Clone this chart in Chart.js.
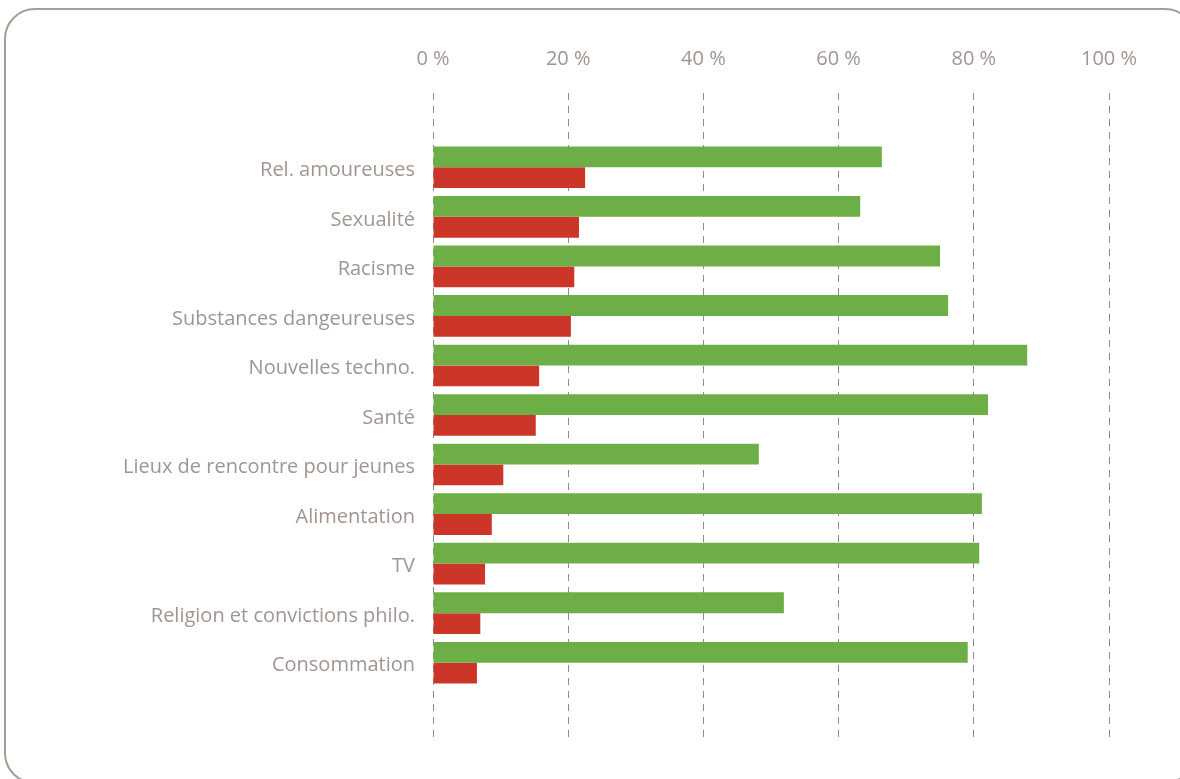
<!DOCTYPE html>
<html>
<head>
<meta charset="utf-8">
<script src="https://cdn.jsdelivr.net/npm/chart.js@4"></script>
<style>
  html, body { margin: 0; padding: 0; width: 1180px; height: 779px; overflow: hidden; background: #ffffff; }
  #frame {
    position: absolute; left: 4px; top: 8px; width: 1192px; height: 776px;
    border: 2px solid #a99d96; border-radius: 31px; box-sizing: border-box;
  }
  #wrap { position: absolute; left: 0; top: 0; width: 1180px; height: 779px; }
</style>
</head>
<body>
<div id="frame"></div>
<div id="wrap"><canvas id="chart" width="1180" height="779"></canvas></div>
<script>
// Thèmes abordés (en %)
const categories = [
  'Rel. amoureuses',
  'Sexualité',
  'Racisme',
  'Substances dangeureuses',
  'Nouvelles techno.',
  'Santé',
  'Lieux de rencontre pour jeunes',
  'Alimentation',
  'TV',
  'Religion et convictions philo.',
  'Consommation'
];
const greenValues = [66.4, 63.2, 75.0, 76.2, 87.9, 82.1, 48.2, 81.2, 80.8, 51.9, 79.1];
const redValues   = [22.5, 21.6, 20.9, 20.4, 15.7, 15.2, 10.4, 8.7, 7.7, 7.0, 6.5];
const xTicks = [0, 20, 40, 60, 80, 100];

const textColor = '#a09590';
const fontFamily = '"Open Sans", Lato, sans-serif';

// one row per category; an extra band of empty space above and below
const yMin = -1.5;
const yMax = categories.length + 0.5;

const toPoints = vals => vals.map((v, i) => ({ x: v, y: i }));

new Chart(document.getElementById('chart'), {
  type: 'bar',
  data: {
    datasets: [
      { data: toPoints(greenValues), backgroundColor: '#6daf46', borderWidth: 0,
        categoryPercentage: 0.84, barPercentage: 1.0 },
      { data: toPoints(redValues), backgroundColor: '#cb3628', borderWidth: 0,
        categoryPercentage: 0.84, barPercentage: 1.0 }
    ]
  },
  options: {
    indexAxis: 'y',
    responsive: false,
    animation: false,
    layout: { padding: { left: 0, right: 71, top: 0, bottom: 42 } },
    plugins: { legend: { display: false }, tooltip: { enabled: false } },
    scales: {
      x: {
        type: 'linear',
        position: 'top',
        min: 0,
        max: 100,
        afterBuildTicks: axis => { axis.ticks = xTicks.map(v => ({ value: v })); },
        afterFit: axis => { axis.height = 93; },
        border: { display: false, dash: [7, 6] },
        grid: { color: '#8c8c8c', lineWidth: 1, drawTicks: false },
        ticks: {
          color: textColor,
          font: { family: fontFamily, size: 20 },
          padding: 22,
          callback: v => v + ' %'
        }
      },
      y: {
        type: 'linear',
        reverse: true,
        offset: false,
        bounds: 'data',
        min: yMin,
        max: yMax,
        afterBuildTicks: axis => {
          axis.ticks = categories.map((_, i) => ({ value: i }));
          axis.min = yMin;
          axis.max = yMax;
        },
        afterFit: axis => { axis.width = 433; },
        border: { display: false },
        grid: { display: false, drawTicks: false, offset: false },
        ticks: {
          color: textColor,
          font: { family: fontFamily, size: 20 },
          padding: 18,
          labelOffset: 3,
          autoSkip: false,
          callback: v => categories[v]
        }
      }
    }
  }
});
</script>
</body>
</html>
